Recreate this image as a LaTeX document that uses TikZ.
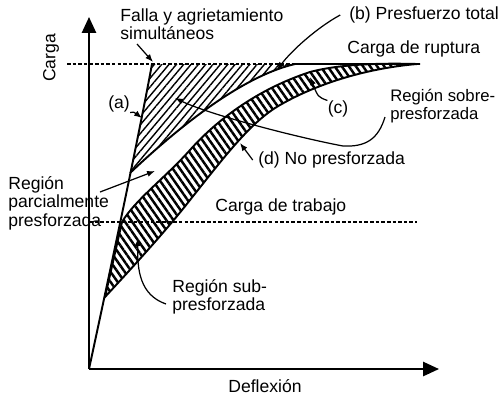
\documentclass[tikz,border=0pt]{standalone}
\usepackage{fontspec}
\setmainfont{Liberation Sans}
\usetikzlibrary{arrows.meta,patterns.meta}

\begin{document}
\begin{tikzpicture}[x=0.02cm, y=-0.02cm,
    lbl/.style={font=\fontsize{10}{10.5}\selectfont, inner sep=0pt, align=left},
    axis/.style={line width=1.2pt, -{Triangle[length=9pt,width=8pt]}},
    curve/.style={line width=1.1pt},
    arr/.style={-{Latex[length=4.5pt,width=3.5pt]}, line width=0.7pt},
    guide/.style={line width=0.6pt, dash pattern=on 2pt off 1.2pt},
    overhatch/.style={pattern={Lines[angle=50,distance=3.2pt,line width=0.8pt]}},
    subhatch/.style={pattern={Lines[angle=-55,distance=3.3pt,line width=1.4pt]}},
  ]
  \useasboundingbox (0,0) rectangle (499,397);

  % key points
  \coordinate (O) at (89,369);
  \coordinate (ytop) at (89,17);
  \coordinate (xend) at (439,369);
  \coordinate (A) at (152,64);
  \coordinate (B0) at (130,173);
  \coordinate (C0) at (122,222);
  \coordinate (D0) at (105,297);
  \coordinate (R) at (420,64);
  \coordinate (rupL) at (67,64);
  \coordinate (trabL) at (89,222);
  \coordinate (trabR) at (417,222);

  % over-prestressed region
  \fill[overhatch] (B0) -- (A) -- (295,64) .. controls (235,78) and (165,140) .. (B0) -- cycle;

  % band between (c) and (d)
  \draw[curve, subhatch] (D0) -- (C0) .. controls (135,200) and (165,178) .. (190,150)
    .. controls (215,122) and (255,90) .. (310,72) .. controls (340,64) and (380,63) .. (417,64)
    .. controls (370,68) and (320,82) .. (280,105) .. controls (250,122) and (222,160) .. (190,200)
    .. controls (165,232) and (130,270) .. (D0) -- cycle;

  % curves (a) and (b)
  \draw[curve] (O) .. controls (112,262) and (138,140) .. (A);
  \draw[curve] (B0) .. controls (165,140) and (235,78) .. (295,64) -- (R);

  % load levels
  \draw[guide] (rupL) -- (295,64);
  \draw[guide] (trabL) -- (trabR);

  % axes
  \draw[axis] (O) -- (ytop);
  \draw[axis] (O) -- (xend);

  % labels
  \node[lbl, anchor=west] (falla) at (120,24) {Falla y agrietamiento\\simultáneos};
  \node[lbl, anchor=west] (presT) at (349,15) {(b) Presfuerzo total};
  \node[lbl, anchor=west] (rup) at (347,49) {Carga de ruptura};
  \node[lbl] (lc) at (338,109) {(c)};
  \node[lbl, anchor=west, font=\fontsize{9.5}{10.5}\selectfont] (sobre) at (390,106) {Región sobre-\\presforzada};
  \node[lbl, anchor=west] (noP) at (258,160) {(d) No presforzada};
  \node[lbl] (la) at (119,104) {(a)};
  \node[lbl, rotate=90] (carga) at (51,58) {Carga};
  \node[lbl, anchor=west] (parc) at (8,203) {Región\\parcialmente\\presforzada};
  \node[lbl, anchor=west] (trab) at (215,207) {Carga de trabajo};
  \node[lbl, anchor=west] (sub) at (172,297) {Región sub-\\presforzada};
  \node[lbl] (defl) at (265,386) {Deflexión};

  % leaders
  \coordinate (fallaT) at (137,44);
  \coordinate (ptFalla) at (153,62);
  \coordinate (ptB) at (277,70);
  \coordinate (ptC) at (310,77);
  \coordinate (sobreT) at (385,117);
  \coordinate (ptSobre) at (175,98);
  \coordinate (ptD) at (240,143);
  \coordinate (ptA) at (142,118);
  \coordinate (parcT) at (100,192);
  \coordinate (ptParc) at (155,171);
  \coordinate (subT) at (166,304);
  \coordinate (ptSub) at (138,238);

  \draw[arr] (fallaT) -- (ptFalla);
  \draw[arr] ([xshift=-5pt]presT.west) .. controls (318,27) and (292,50) .. (ptB);
  \draw[arr] (lc.north west) .. controls (318,97) .. (ptC);
  \draw[arr] (sobreT) .. controls (378,140) and (365,147) .. (343,146)
    .. controls (300,138) and (210,115) .. (ptSobre);
  \draw[arr] ([xshift=-3pt]noP.west) -- (ptD);
  \draw[arr] (la.south east) .. controls (134,112) .. (ptA);
  \draw[arr] (parcT) -- (ptParc);
  \draw[arr] (subT) .. controls (140,295) and (137,270) .. (ptSub);

\end{tikzpicture}
\end{document}
